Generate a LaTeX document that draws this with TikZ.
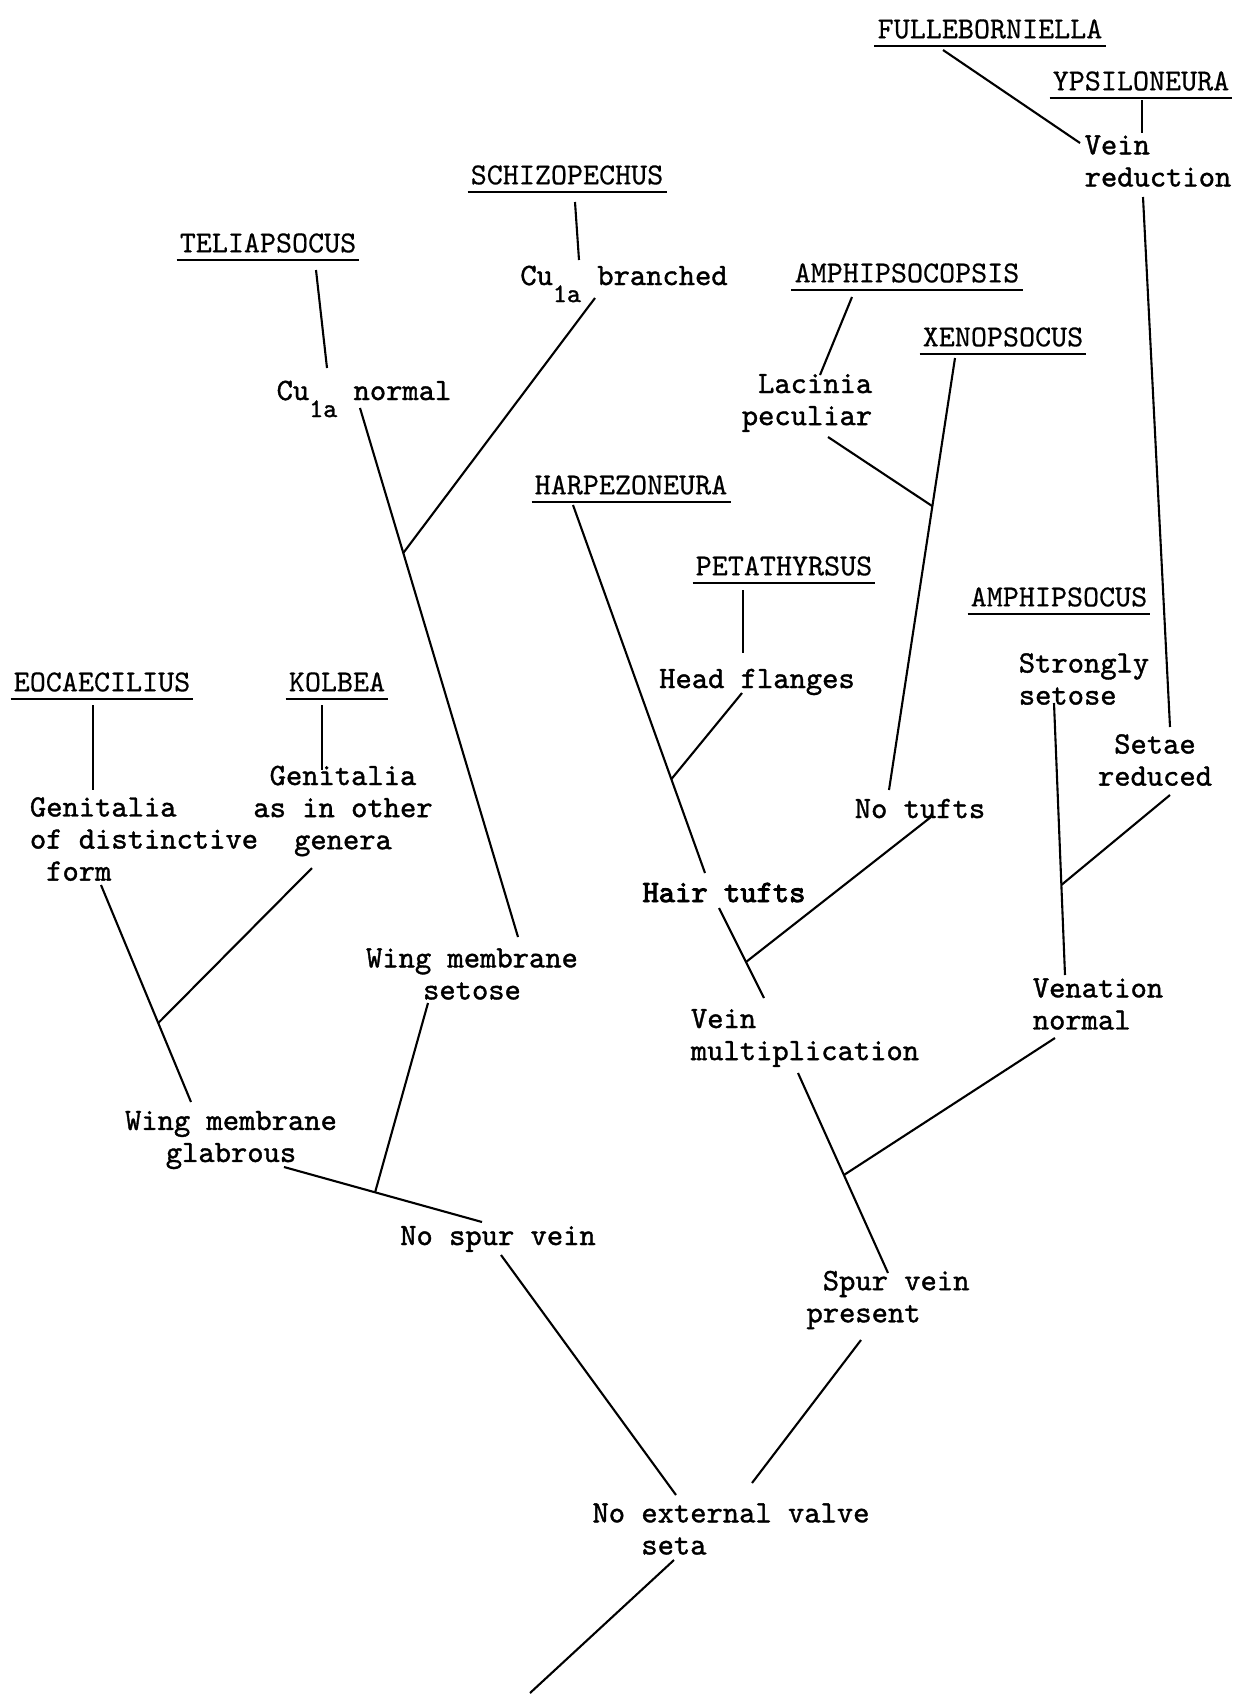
\documentclass[tikz,border=0pt]{standalone}
\usepackage{fontspec}
\newfontfamily\traitfont[FakeBold=1.2]{lmmono10-regular.otf}
\newfontfamily\hairfont[FakeBold=3]{lmmono10-regular.otf}
\newfontfamily\genusfont[FakeBold=0.4]{lmmono10-regular.otf}
\begin{document}
\begin{tikzpicture}[x=0.0184cm,y=-0.0184cm,
    genus/.style={font=\genusfont\fontsize{16}{18}\selectfont, inner xsep=1.5pt, inner ysep=3.6pt,
        append after command={(\tikzlastnode.south west) edge[uline] (\tikzlastnode.south east)}},
    trait/.style={font=\traitfont\fontsize{16.25}{16.8}\selectfont, inner sep=0pt},
    uline/.style={draw, line width=1.4pt},
    branch/.style={line width=1.1pt}]

    \fill[white] (0,0) rectangle (1249,1701);

    % genera
    \node[genus] (fulle) at (990,29) {FULLEBORNIELLA};
    \node[genus] (ypsi) at (1141,81) {YPSILONEURA};
    \node[genus] (schizo) at (567,175) {SCHIZOPECHUS};
    \node[genus] (telia) at (268,243) {TELIAPSOCUS};
    \node[genus] (amphis) at (907,273) {AMPHIPSOCOPSIS};
    \node[genus] (xeno) at (1003,337) {XENOPSOCUS};
    \node[genus] (harpe) at (631,485) {HARPEZONEURA};
    \node[genus] (peta) at (784,566) {PETATHYRSUS};
    \node[genus] (amphi) at (1059,597) {AMPHIPSOCUS};
    \node[genus] (eoca) at (102,682) {EOCAECILIUS};
    \node[genus] (kolbea) at (337,682) {KOLBEA};

    % characters
    \node[trait, align=left] (vred) at (1158,161) {Vein\\reduction};
    \node[trait, anchor=base] (cubr) at (624,285) {Cu\raisebox{-0.55em}{\fontsize{14}{14}\selectfont 1a} branched};
    \node[trait, anchor=base] (cunorm) at (364,400) {Cu\raisebox{-0.55em}{\fontsize{14}{14}\selectfont 1a} normal};
    \node[trait, align=right] (lacpec) at (807,403) {Lacinia\\peculiar};
    \node[trait, anchor=base] (headfl) at (757,688) {Head flanges};
    \node[trait, align=left] (strong) at (1084,679) {Strongly\\setose};
    \node[trait, align=center] (setred) at (1155,760) {Setae\\reduced};
    \node[trait, anchor=base] (notufts) at (920,818) {No tufts};
    \node[trait, anchor=base, font=\hairfont\fontsize{16.25}{16.8}\selectfont] (hair) at (724,902) {Hair tufts};
    \node[trait, align=left] (veinmul) at (805,1038) {Vein\\multiplication};
    \node[trait, align=left] (venat) at (1098,1004) {Venation\\normal};
    \node[trait, align=left] (gendis) at (144,839) {Genitalia\\of distinctive\\\phantom{x}form};
    \node[trait, align=center] (genoth) at (343,811) {Genitalia\\as in other\\genera};
    \node[trait, align=center] (wingset) at (472,974) {Wing membrane\\setose};
    \node[trait, align=center] (wingglab) at (231,1140) {Wing membrane\\glabrous};
    \node[trait, anchor=base] (nospur) at (498,1245) {No spur vein};
    \node[trait, align=left] (spur) at (888,1300) {\phantom{x}Spur vein\\present};
    \node[trait, align=left] (noext) at (731,1529) {No external valve\\\phantom{xxx}seta};
    \coordinate (root) at (530,1693);

    % branches
    \draw[branch] ([shift={(-47,21)}]fulle.center) -- ([shift={(-78,-18)}]vred.center);
    \draw[branch] ([shift={(1,19)}]ypsi.center) -- ([shift={(-16,-28)}]vred.center);
    \draw[branch] ([shift={(-15,36)}]vred.center) -- ([shift={(15,-33)}]setred.center);
    \draw[branch] ([shift={(8,27)}]schizo.center) -- ([shift={(-45,-25)}]cubr.base);
    \draw[branch] ([shift={(48,27)}]telia.center) -- ([shift={(-37,-32)}]cunorm.base);
    \draw[branch] ([shift={(-4,8)}]cunorm.base) -- ([shift={(46,-37)}]wingset.center) coordinate[pos=0.274] (jcu);
    \draw[branch] ([shift={(-29,13)}]cubr.base) -- (jcu);
    \draw[branch] ([shift={(-55,24)}]amphis.center) -- ([shift={(13,-28)}]lacpec.center);
    \draw[branch] ([shift={(-48,21)}]xeno.center) -- ([shift={(-31,-28)}]notufts.base) coordinate[pos=0.343] (jlac);
    \draw[branch] ([shift={(21,34)}]lacpec.center) -- (jlac);
    \draw[branch] ([shift={(-58,20)}]harpe.center) -- ([shift={(-19,-29)}]hair.base) coordinate[pos=0.745] (jhead);
    \draw[branch] ([shift={(-41,24)}]peta.center) -- ([shift={(-14,-35)}]headfl.base);
    \draw[branch] ([shift={(-15,5)}]headfl.base) -- (jhead);
    \draw[branch] ([shift={(-5,6)}]hair.base) -- ([shift={(-41,-40)}]veinmul.center) coordinate[pos=0.6] (jtuft);
    \draw[branch] ([shift={(11,-1)}]notufts.base) -- (jtuft);
    \draw[branch] ([shift={(-30,24)}]strong.center) -- ([shift={(-33,-29)}]venat.center) coordinate[pos=0.669] (jset);
    \draw[branch] ([shift={(15,35)}]setred.center) -- (jset);
    \draw[branch] ([shift={(-9,23)}]eoca.center) -- ([shift={(-51,-49)}]gendis.center);
    \draw[branch] ([shift={(-15,23)}]kolbea.center) -- ([shift={(-21,-41)}]genoth.center);
    \draw[branch] ([shift={(-43,46)}]gendis.center) -- ([shift={(-40,-38)}]wingglab.center) coordinate[pos=0.636] (jgen);
    \draw[branch] ([shift={(-31,57)}]genoth.center) -- (jgen);
    \draw[branch] ([shift={(53,27)}]wingglab.center) -- ([shift={(-16,-23)}]nospur.base) coordinate[pos=0.46] (jwing);
    \draw[branch] ([shift={(-44,29)}]wingset.center) -- (jwing);
    \draw[branch] ([shift={(3,10)}]nospur.base) -- ([shift={(-55,-34)}]noext.center);
    \draw[branch] ([shift={(-7,35)}]veinmul.center) -- ([shift={(0,-27)}]spur.center) coordinate[pos=0.51] (jven);
    \draw[branch] ([shift={(-43,34)}]venat.center) -- (jven);
    \draw[branch] ([shift={(-27,40)}]spur.center) -- ([shift={(21,-46)}]noext.center);
    \draw[branch] ([shift={(-57,31)}]noext.center) -- (root);
\end{tikzpicture}
\end{document}
